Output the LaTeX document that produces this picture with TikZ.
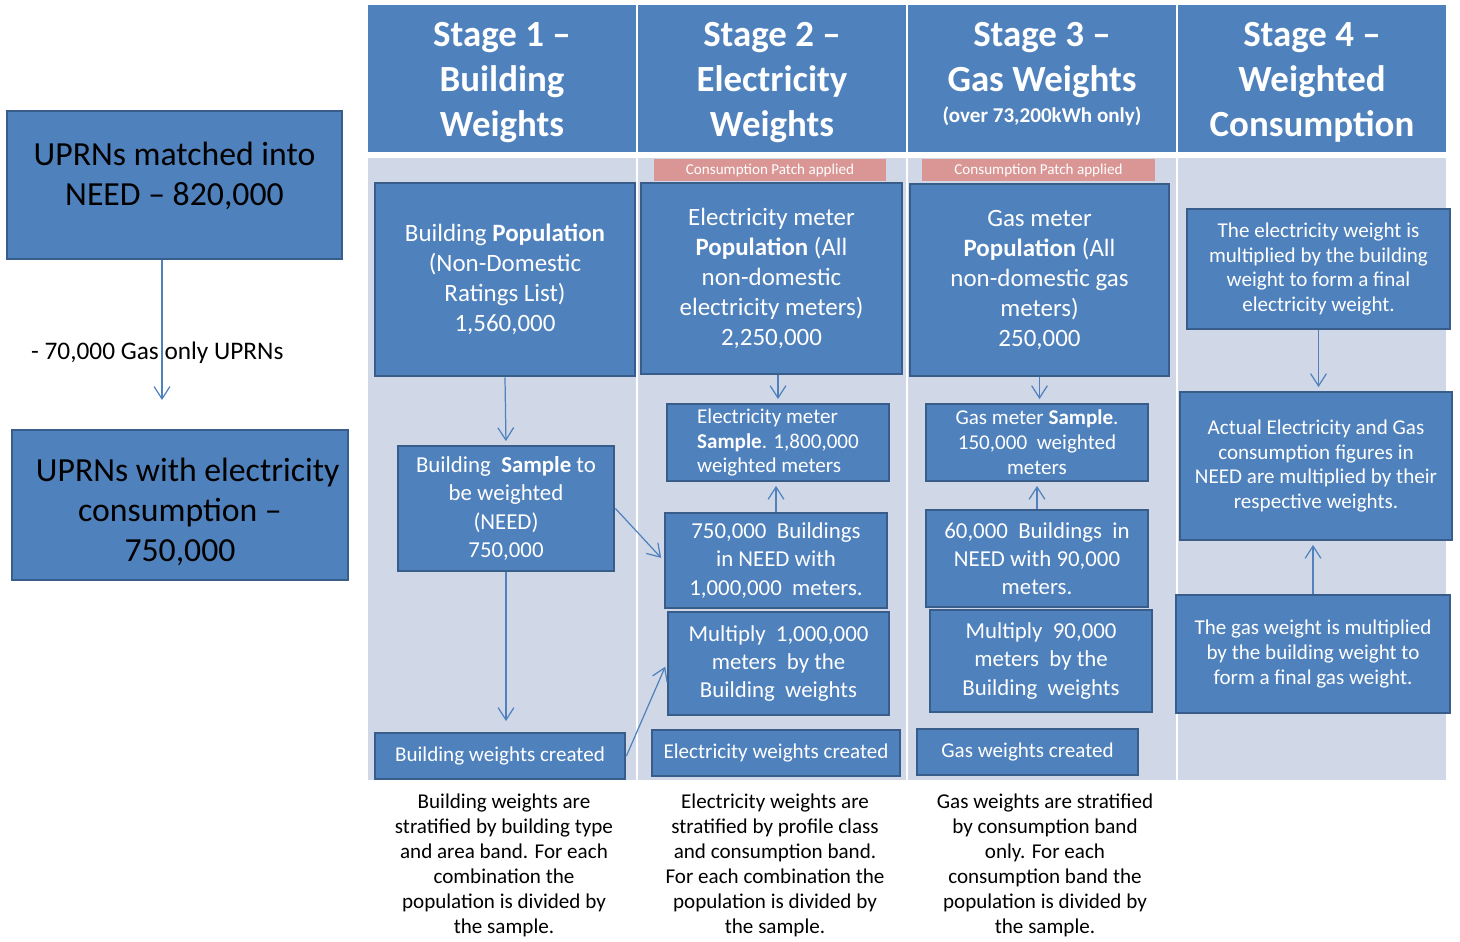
\documentclass[tikz,border=0pt]{standalone}
\usepackage{fontspec}
\setmainfont{Carlito}
\usetikzlibrary{arrows.meta}
\definecolor{boxblue}{HTML}{4F81BD}
\definecolor{boxedge}{HTML}{385D8A}
\definecolor{panelgrey}{HTML}{D0D8E8}
\definecolor{patchred}{HTML}{D99694}
\tikzset{
  dims/.style 2 args={
    minimum width = #1*0.02cm,
    minimum height = #2*0.02cm
  },
  stepbox/.style={
    shape = rectangle,
    draw = boxedge,
    line width = 1.6pt,
    fill = boxblue,
    text = white,
    align = center,
    inner sep = 0pt
  },
  leftbox/.style={
    stepbox,
    text = black,
    font = \fontsize{19.2}{22.8}\selectfont
  },
  stagehead/.style={
    fill = boxblue,
    text = white,
    align = center,
    inner sep = 0pt,
    text height = 66pt,
    text depth = 0pt,
    font = \bfseries\fontsize{21}{25.6}\selectfont
  },
  patch/.style={
    fill = patchred,
    text = white,
    inner sep = 0pt,
    font = \fontsize{8.6}{10}\selectfont
  },
  bigtext/.style={font = \fontsize{14.2}{17}\selectfont},
  midtext/.style={font = \fontsize{13}{16}\selectfont},
  smalltext/.style={font = \fontsize{12}{14.2}\selectfont},
  note/.style={
    align = center,
    inner sep = 0pt,
    font = \fontsize{12}{14.2}\selectfont
  },
  flow/.style={
    draw = boxblue,
    line width = 0.7pt,
    shorten > = 2pt,
    -{Straight Barb[length=7pt,width=9pt]}
  }
}
\begin{document}
\begin{tikzpicture}[x=0.02cm, y=-0.02cm]
            \useasboundingbox (0,0) rectangle (1460,942);
            % background panels under the stage headings
            \fill[panelgrey] (368,158) rectangle (636,780);
            \fill[panelgrey] (638,158) rectangle (906,780);
            \fill[panelgrey] (908,158) rectangle (1176,780);
            \fill[panelgrey] (1178,158) rectangle (1446,780);

            \node[stagehead, dims={268}{147}] (head1) at (502,78.5) {Stage 1 –\\Building\\Weights};
            \node[stagehead, dims={268}{147}] (head2) at (772,78.5) {Stage 2 –\\Electricity\\Weights};
            \node[stagehead, dims={268}{147}, text height = 50.3pt] (head3) at (1042,78.5) {Stage 3 –\\Gas Weights\\[-8pt]{\fontsize{12}{14}\selectfont (over 73,200kWh only)}};
            \node[stagehead, dims={268}{147}] (head4) at (1312,78.5) {Stage 4 –\\Weighted\\Consumption};

            \node[patch, dims={232}{22}] (patch2) at (770,170) {Consumption Patch applied};
            \node[patch, dims={233}{22}] (patch3) at (1038.5,170) {Consumption Patch applied};

            % UPRN matching
            \node[leftbox, dims={335}{148}, text height = 23.4pt, text depth = 0pt] (uprn) at (174.5,185) {UPRNs matched into\\NEED – 820,000};
            \node[leftbox, dims={336}{150}, text height = 64.4pt, text depth = 0pt] (uprnelec) at (180,505) {\ \ UPRNs with electricity\\consumption –\\750,000};
            \coordinate (cut) at (162,400);
            \draw[flow, shorten > = 0pt] (uprn.south -| cut) -- (cut);
            \node[anchor=west, font=\fontsize{14.4}{17}\selectfont] (gasonly) at (25,353) {- 70,000 Gas only UPRNs};

            % stage 1
            \node[stepbox, bigtext, dims={260}{193}] (pop1) at (505,279.5) {Building \textbf{Population}\\(Non-Domestic\\Ratings List)\\1,560,000};
            \node[stepbox, midtext, dims={216}{125}] (samp1) at (506,508.5) {Building\ \ \textbf{Sample} to\\be weighted\\(NEED)\\750,000};
            \node[stepbox, smalltext, dims={250}{46}] (made1) at (500,756) {Building weights created};
            \draw[flow] (pop1.south) -- (samp1.north);
            \draw[flow, shorten > = 6pt] (samp1.south) -- (samp1.south |- made1.north);

            % stage 2
            \node[stepbox, bigtext, dims={261}{191}] (pop2) at (771.5,278.5) {Electricity meter\\\textbf{Population} (All\\non-domestic\\electricity meters)\\2,250,000};
            \node[stepbox, smalltext, align=left, dims={222}{77}] (samp2) at (778,442.5) {Electricity meter\\\textbf{Sample}. 1,800,000\\weighted meters};
            \node[stepbox, midtext, dims={222}{95}] (bld2) at (776,560.5) {750,000\ \ Buildings\\in NEED with\\1,000,000\ \ meters.};
            \node[stepbox, midtext, dims={221}{103}] (mult2) at (778.5,663.5) {Multiply\ \ 1,000,000\\meters\ \ by the\\Building\ \ weights};
            \node[stepbox, smalltext, dims={248}{46}] (made2) at (776,753) {Electricity weights created};
            \draw[flow] (samp2.north |- pop2.south) -- (samp2.north);
            \draw[flow] (bld2.north) -- (bld2.north |- samp2.south);
            \draw[flow] (samp1.east) -- (bld2.west);
            \draw[flow] (made1.east) -- (mult2.west);

            % stage 3
            \node[stepbox, bigtext, dims={259}{192}] (pop3) at (1039.5,280) {Gas meter\\\textbf{Population} (All\\non-domestic gas\\meters)\\250,000};
            \node[stepbox, smalltext, dims={222}{77}] (samp3) at (1037,442.5) {Gas meter \textbf{Sample}.\\150,000\ \ weighted\\meters};
            \node[stepbox, midtext, dims={222}{97}] (bld3) at (1037,558.5) {60,000\ \ Buildings\ \ in\\NEED with 90,000\\meters.};
            \node[stepbox, midtext, dims={222}{102}] (mult3) at (1041,661) {Multiply\ \ 90,000\\meters\ \ by the\\Building\ \ weights};
            \node[stepbox, smalltext, dims={221}{46}] (made3) at (1027.5,752) {Gas weights created};
            \draw[flow] (pop3.south) -- (pop3.south |- samp3.north);
            \draw[flow] (bld3.north) -- (bld3.north |- samp3.south);

            % stage 4
            \node[stepbox, smalltext, dims={263}{120}] (elecfinal) at (1318.5,269) {The electricity weight is\\multiplied by the building\\weight to form a final\\electricity weight.};
            \node[stepbox, smalltext, dims={272}{148}] (actual) at (1316,466) {Actual Electricity and Gas\\consumption figures in\\NEED are multiplied by their\\respective weights.};
            \node[stepbox, smalltext, dims={274}{118}] (gasfinal) at (1313,654) {The gas weight is multiplied\\by the building weight to\\form a final gas weight.};
            \draw[flow] (elecfinal.south) -- (elecfinal.south |- actual.north);
            \draw[flow] (gasfinal.north) -- (gasfinal.north |- actual.south);

            % notes under the panels
            \node[note] (note1) at (504,865) {Building weights are\\stratified by building type\\and area band. For each\\combination the\\population is divided by\\the sample.};
            \node[note] (note2) at (775,865) {Electricity weights are\\stratified by profile class\\and consumption band.\\For each combination the\\population is divided by\\the sample.};
            \node[note] (note3) at (1045,865) {Gas weights are stratified\\by consumption band\\only. For each\\consumption band the\\population is divided by\\the sample.};
        \end{tikzpicture}
\end{document}
